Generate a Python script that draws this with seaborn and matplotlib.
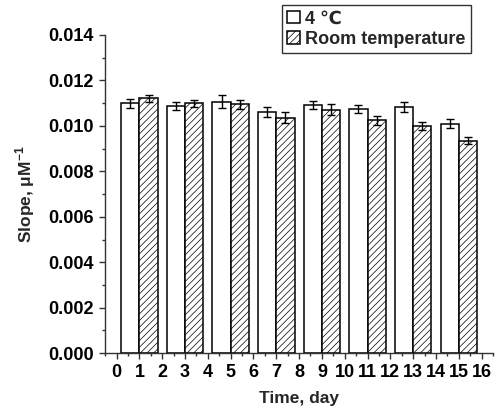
import numpy as np
import pandas as pd
import matplotlib
matplotlib.use("Agg")
import matplotlib.pyplot as plt
from matplotlib.ticker import MultipleLocator
import seaborn as sns

# ── DATA ────────────────────────────────────────────────────
days = [1, 3, 5, 7, 9, 11, 13, 15]
slope_4c = [0.01100, 0.01088, 0.01106, 0.01061, 0.01093, 0.01075, 0.01084, 0.01010]
err_4c = [0.00020, 0.00018, 0.00028, 0.00022, 0.00018, 0.00017, 0.00023, 0.00019]
slope_rt = [0.01121, 0.01100, 0.01096, 0.01036, 0.01072, 0.01024, 0.00999, 0.00934]
err_rt = [0.00016, 0.00015, 0.00020, 0.00023, 0.00024, 0.00020, 0.00017, 0.00015]
conditions = ["4 \u2103", "Room temperature"]

# ── STYLE ───────────────────────────────────────────────────
sns.set_theme(style="ticks")
plt.rcParams["font.family"] = ["Liberation Sans", "DejaVu Sans"]
plt.rcParams["font.weight"] = "bold"
plt.rcParams["mathtext.fontset"] = "custom"
plt.rcParams["mathtext.bf"] = "Liberation Sans:bold"
plt.rcParams["mathtext.rm"] = "Liberation Sans:bold"
plt.rcParams["hatch.linewidth"] = 0.5
plt.rcParams["hatch.color"] = "#555555"

df = pd.DataFrame({
    "day": days * 2,
    "slope": slope_4c + slope_rt,
    "cond": [conditions[0]] * len(days) + [conditions[1]] * len(days),
})

fig, ax = plt.subplots(figsize=(4.96, 4.16), dpi=100)
fig.subplots_adjust(left=0.212, right=0.994, bottom=0.151, top=0.916)

sns.barplot(data=df, x="day", y="slope", hue="cond", hue_order=conditions,
            native_scale=True, palette=["white", "white"], edgecolor="black",
            linewidth=1.1, width=0.8, errorbar=None, legend=False, ax=ax)

bar_sets = [c for c in ax.containers][:2]
for bar in bar_sets[1]:
    bar.set_hatch("/////")

# error bars
for bars, errs in zip(bar_sets, [err_4c, err_rt]):
    for bar, e in zip(bars, errs):
        ax.errorbar(bar.get_x() + bar.get_width() / 2, bar.get_height(), yerr=e,
                    fmt="none", ecolor="black", elinewidth=1.0, capsize=3,
                    capthick=1.0)

ax.set_xlim(-0.5, 16.5)
ax.set_ylim(0, 0.014)
ax.set_xticks(range(0, 17))
ax.xaxis.set_minor_locator(MultipleLocator(0.5))
ax.yaxis.set_major_locator(MultipleLocator(0.002))
ax.yaxis.set_minor_locator(MultipleLocator(0.001))
ax.yaxis.set_major_formatter(matplotlib.ticker.FormatStrFormatter("%.3f"))
ax.tick_params(axis="both", which="major", length=4.5, width=1.0, labelsize=13,
               color="#333333", labelcolor="black")
ax.tick_params(axis="both", which="minor", length=2.5, width=1.0, color="#333333")
for lab in ax.get_xticklabels() + ax.get_yticklabels():
    lab.set_fontweight("bold")

sns.despine(ax=ax)
for s in ["left", "bottom"]:
    ax.spines[s].set_linewidth(1.0)
    ax.spines[s].set_color("#333333")

ax.set_xlabel("Time, day", fontsize=12.5, fontweight="bold", labelpad=7)
ax.set_ylabel(r"Slope, μM$^{\mathbf{-1}}$", fontsize=12.5, fontweight="bold",
              labelpad=8)

leg = ax.legend([bar_sets[0][0], bar_sets[1][0]], conditions,
                loc="upper left", bbox_to_anchor=(0.456, 1.094), borderaxespad=0,
                frameon=True, fancybox=False, edgecolor="black",
                handlelength=0.7, handleheight=0.7, handletextpad=0.3,
                labelspacing=0.2, borderpad=0.3,
                prop={"weight": "bold", "size": 13})
leg.get_frame().set_linewidth(1.0)

fig.savefig("out.png", dpi=100, facecolor="white")
